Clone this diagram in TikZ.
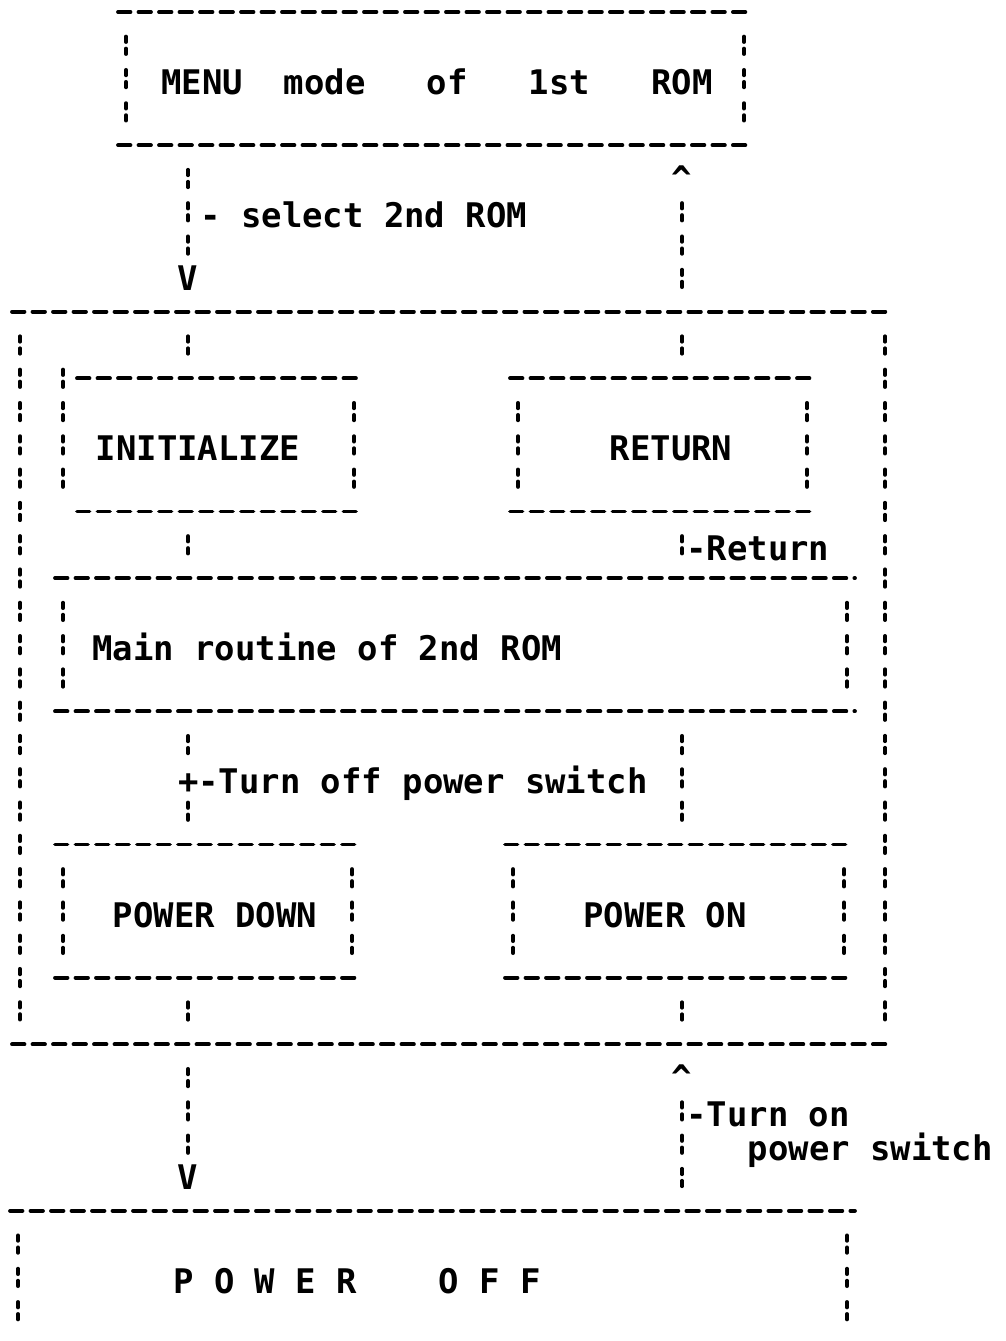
\documentclass[tikz,border=0pt]{standalone}
\usepackage{fontspec}
\setmonofont{DejaVu Sans Mono}
\usetikzlibrary{calc,fit}

\begin{document}
\begin{tikzpicture}[
    x=0.02cm, y=-0.02cm,
    % Line styles (printer dashes and broken bars)
    hdash/.style={line width=0.075cm, line cap=round, dash pattern=on 0.25cm off 0.16cm},
    vdash/.style={line width=0.075cm, line cap=round,
        dash pattern=on 0.11cm off 0.13cm on 0.11cm off 0.316cm,
        shorten <=0.491cm, shorten >=0.491cm},
    % Node styles
    frame/.style={inner sep=0pt, outer sep=0pt},
    txt/.style={font=\fontsize{19.3}{23}\selectfont\ttfamily\bfseries, inner sep=0pt, anchor=base},
    lbl/.style={txt, anchor=base west},
    chevron/.style={font=\fontsize{19.3}{23}\selectfont\ttfamily\bfseries, inner sep=0pt},
]
\useasboundingbox (0,0) rectangle (1005,1341);

    % Frames (text rows 33.3 apart)
    \node[frame, fit={(118,12) (752,145.2)}] (menu) {};
    \node[frame, fit={(12,311.7) (893,1044.3)}] (rom2) {};
    \node[frame, fit={(77,378.3) (362,511.5)}] (init) {};
    \node[frame, fit={(510,378.3) (815,511.5)}] (ret) {};
    \node[frame, fit={(55,578.1) (855,711.3)}] (mainr) {};
    \node[frame, fit={(55,844.5) (360,977.7)}] (pdown) {};
    \node[frame, fit={(505,844.5) (852,977.7)}] (pon) {};
    \node[frame, fit={(10,1210.8) (855,1344)}] (poff) {};

    \foreach \b in {menu,rom2,init,ret,mainr,pdown,pon,poff} {
        \draw[hdash] (\b.north west) -- (\b.north east);
        \draw[hdash] (\b.south west) -- (\b.south east);
        \draw[vdash] ([xshift=-0.16cm]\b.north east) -- ([xshift=-0.16cm]\b.south east);
    }
    \foreach \b in {menu,rom2,ret,mainr,pdown,pon,poff}
        \draw[vdash] ([xshift=0.16cm]\b.north west) -- ([xshift=0.16cm]\b.south west);
    \draw[vdash] ($(init.north west)+(-14,-33.3)$) -- ($(init.south west)+(-14,0)$);

    % Texts
    \node[txt] (menuT) at (437,94.6) {MENU\ \ mode\ \ \ of\ \ \ 1st\ \ \ ROM};
    \node[txt] (initT) at (198,460.9) {INITIALIZE};
    \node[txt] (retT) at (671,460.9) {RETURN};
    \node[lbl] (mainT) at (92,660.7) {Main routine of 2nd ROM};
    \node[txt] (pdownT) at (215,927.1) {POWER DOWN};
    \node[txt] (ponT) at (665,927.1) {POWER ON};
    \node[txt] (poffT) at (357,1293.4) {P O W E R\ \ \ \ O F F};

    % Connections
    \coordinate (colL) at (188,0);
    \coordinate (colR) at (682,0);
    \node[chevron] (dn1) at (188,278.4) {V};
    \node[chevron] (up1) at (682,178.5) {\textasciicircum};
    \draw[vdash] (menu.south -| dn1) -- (dn1.center);
    \draw[vdash] (up1.center) -- (up1 |- rom2.north);
    \draw[vdash] (rom2.north -| colL) -- (init.north -| colL);
    \draw[vdash] (rom2.north -| colR) -- (ret.north -| colR);
    \draw[vdash] (init.south -| colL) -- (mainr.north -| colL);
    \draw[vdash] (ret.south -| colR) -- (mainr.north -| colR);
    \coordinate (tee) at (188,777.9);
    \draw[vdash] (mainr.south -| tee) -- (tee);
    \draw[vdash] (tee) -- (tee |- pdown.north);
    \draw[vdash] (mainr.south -| colR) -- (pon.north -| colR);
    \draw[vdash] (pdown.south -| colL) -- (rom2.south -| colL);
    \draw[vdash] (pon.south -| colR) -- (rom2.south -| colR);
    \node[chevron] (dn2) at (188,1177.5) {V};
    \node[chevron] (up2) at (682,1077.6) {\textasciicircum};
    \draw[vdash] (rom2.south -| dn2) -- (dn2.center);
    \draw[vdash] (up2.center) -- (up2 |- poff.north);

    % Connector labels
    \node[lbl] (selL) at (200,227.8) {- select 2nd ROM};
    \node[lbl] (retL) at (686,560.8) {-Return};
    \node[lbl] (offL) at (177.75,793.9) {+-Turn off power switch};
    \node[lbl] (onL) at (686,1126.9) {-Turn on};
    \node[lbl] (onL2) at (747.5,1160.2) {power switch};

\end{tikzpicture}
\end{document}
